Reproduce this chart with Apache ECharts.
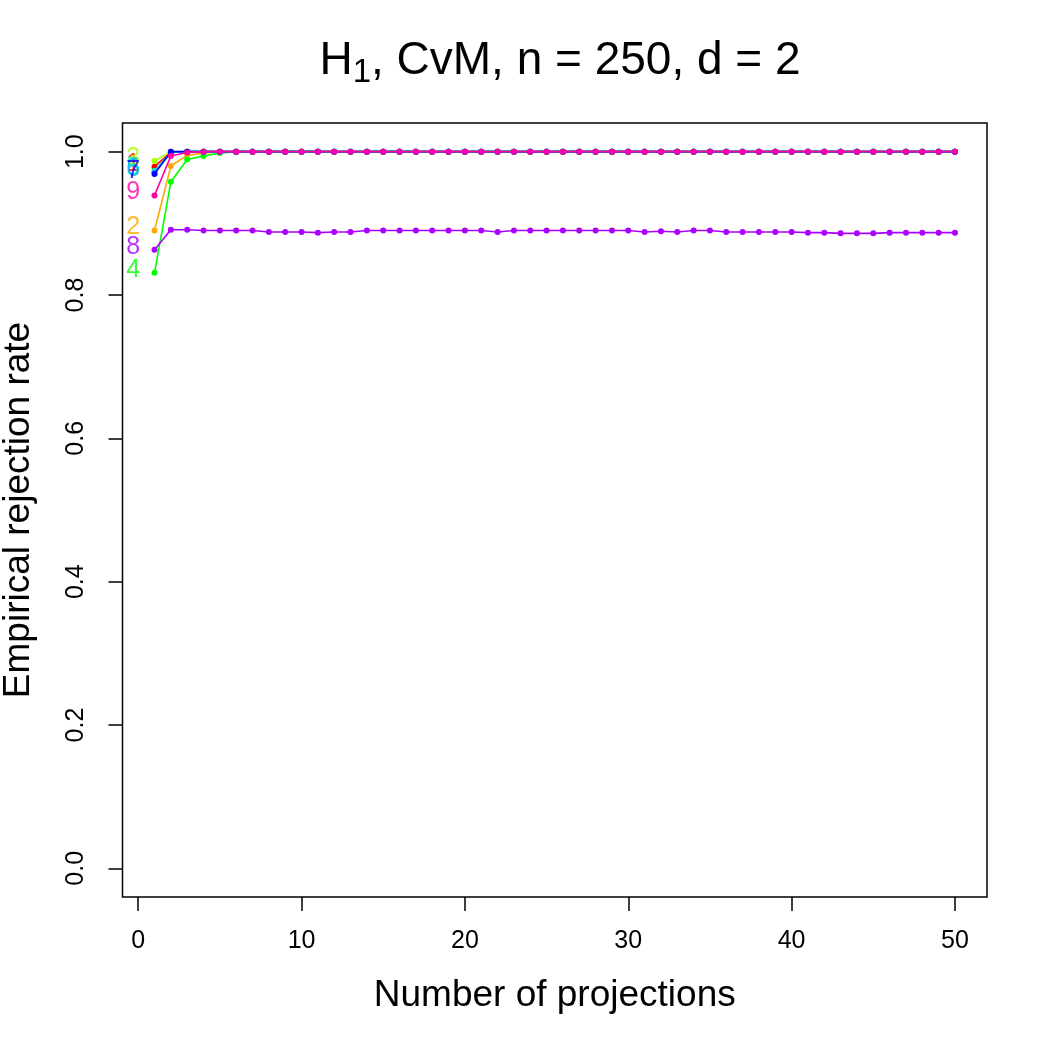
<!DOCTYPE html>
<html>
<head>
<meta charset="utf-8">
<script src="https://cdn.jsdelivr.net/npm/echarts@6/dist/echarts.min.js"></script>
<style>
html,body{margin:0;padding:0;background:#fff;}
#chart{width:1050px;height:1050px;}
</style>
</head>
<body>
<div id="chart"></div>
<script>
const titleMain = "H";
const titleSub = "1";
const titleRest = ", CvM, n = 250, d = 2";
const xAxisTitle = "Number of projections";
const yAxisTitle = "Empirical rejection rate";

const projections = [1,2,3,4,5,6,7,8,9,10,11,12,13,14,15,16,17,18,19,20,21,22,23,24,25,26,27,28,29,30,31,32,33,34,35,36,37,38,39,40,41,42,43,44,45,46,47,48,49,50];
const xTicks = [0, 10, 20, 30, 40, 50];
const yTicks = [0, 0.2, 0.4, 0.6, 0.8, 1.0];

const seriesNames = ["1","2","3","4","5","6","7","8","9"];
const seriesColors = ["#FF0000","#FFAA00","#AAFF00","#00FF00","#00FFAA","#00AAFF","#0000FF","#AA00FF","#FF00AA"];

const s1 = [0.979,0.999,1,1,1,1,1,1,1,1, 1,1,1,1,1,1,1,1,1,1, 1,1,1,1,1,1,1,1,1,1, 1,1,1,1,1,1,1,1,1,1, 1,1,1,1,1,1,1,1,1,1];
const s2 = [0.890,0.980,0.995,0.998,1,1,1,1,1,1, 1,1,1,1,1,1,1,1,1,1, 1,1,1,1,1,1,1,1,1,1, 1,1,1,1,1,1,1,1,1,1, 1,1,1,1,1,1,1,1,1,1];
const s3 = [0.987,1,1,1,1,1,1,1,1,1, 1,1,1,1,1,1,1,1,1,1, 1,1,1,1,1,1,1,1,1,1, 1,1,1,1,1,1,1,1,1,1, 1,1,1,1,1,1,1,1,1,1];
const s4 = [0.831,0.958,0.989,0.994,0.998,1,1,1,1,1, 1,1,1,1,1,1,1,1,1,1, 1,1,1,1,1,1,1,1,1,1, 1,1,1,1,1,1,1,1,1,1, 1,1,1,1,1,1,1,1,1,1];
const s5 = [0.973,0.999,1,1,1,1,1,1,1,1, 1,1,1,1,1,1,1,1,1,1, 1,1,1,1,1,1,1,1,1,1, 1,1,1,1,1,1,1,1,1,1, 1,1,1,1,1,1,1,1,1,1];
const s6 = [0.971,0.999,1,1,1,1,1,1,1,1, 1,1,1,1,1,1,1,1,1,1, 1,1,1,1,1,1,1,1,1,1, 1,1,1,1,1,1,1,1,1,1, 1,1,1,1,1,1,1,1,1,1];
const s7 = [0.969,1,1,1,1,1,1,1,1,1, 1,1,1,1,1,1,1,1,1,1, 1,1,1,1,1,1,1,1,1,1, 1,1,1,1,1,1,1,1,1,1, 1,1,1,1,1,1,1,1,1,1];
const s8 = [0.863,0.891,0.891,0.890,0.890,0.890,0.890,0.888,0.888,0.888,
            0.887,0.888,0.888,0.890,0.890,0.890,0.890,0.890,0.890,0.890,
            0.890,0.888,0.890,0.890,0.890,0.890,0.890,0.890,0.890,0.890,
            0.888,0.889,0.888,0.890,0.890,0.888,0.888,0.888,0.888,0.888,
            0.887,0.887,0.886,0.886,0.886,0.887,0.887,0.887,0.887,0.887];
const s9 = [0.939,0.994,0.999,1,1,1,1,1,1,1, 1,1,1,1,1,1,1,1,1,1, 1,1,1,1,1,1,1,1,1,1, 1,1,1,1,1,1,1,1,1,1, 1,1,1,1,1,1,1,1,1,1];

const allSeries = [s1,s2,s3,s4,s5,s6,s7,s8,s9];
const labelX = 0;
const FONT = 'Liberation Sans, Arial, sans-serif';

const series = [];
allSeries.forEach(function(vals, i){
  series.push({
    type: 'line',
    name: seriesNames[i],
    data: projections.map(function(p, k){ return [p, vals[k]]; }),
    symbol: 'circle',
    symbolSize: 6,
    showSymbol: true,
    lineStyle: {color: seriesColors[i], width: 1.6},
    itemStyle: {color: seriesColors[i], borderWidth: 0},
    emphasis: {disabled: true},
    animation: false,
    z: 2 + i
  });
});
allSeries.forEach(function(vals, i){
  series.push({
    type: 'scatter',
    name: 'lab' + seriesNames[i],
    data: [[labelX, vals[0]]],
    symbolSize: 0,
    label: {
      show: true,
      position: 'inside',
      formatter: seriesNames[i],
      color: seriesColors[i],
      fontSize: 25,
      fontFamily: FONT,
      offset: [-5, -3]
    },
    emphasis: {disabled: true},
    animation: false,
    z: 20 + i
  });
});

const chart = echarts.init(document.getElementById('chart'), null, {renderer: 'canvas'});
chart.setOption({
  backgroundColor: '#ffffff',
  animation: false,
  textStyle: {fontFamily: FONT, color: '#000'},
  title: {
    text: '{a|' + titleMain + '}{s|' + titleSub + '}{a|' + titleRest + '}',
    left: 555,
    textAlign: 'center',
    top: 28,
    textStyle: {
      fontWeight: 'normal',
      rich: {
        a: {fontSize: 46, lineHeight: 56, color: '#000', fontWeight: 'normal', fontFamily: FONT},
        s: {fontSize: 33, lineHeight: 33, verticalAlign: 'bottom', color: '#000', fontWeight: 'normal', fontFamily: FONT}
      }
    }
  },
  grid: {
    left: 122.5, right: 63, top: 123, bottom: 153,
    outerBoundsMode: 'none',
    containLabel: false,
    show: true, borderColor: '#000', borderWidth: 1.5, backgroundColor: 'transparent'
  },
  xAxis: {
    type: 'value',
    min: -0.96, max: 51.96,
    axisLine: {show: false, onZero: false},
    splitLine: {show: false},
    axisTick: {show: true, inside: false, customValues: xTicks, length: 14, lineStyle: {color: '#000', width: 1.5}},
    axisLabel: {customValues: xTicks, fontSize: 25, color: '#000', margin: 32, fontFamily: FONT},
    name: xAxisTitle,
    nameLocation: 'middle',
    nameGap: 80,
    nameTextStyle: {fontSize: 37, color: '#000', fontFamily: FONT}
  },
  yAxis: {
    type: 'value',
    min: -0.04, max: 1.04,
    axisLine: {show: false, onZero: false},
    splitLine: {show: false},
    axisTick: {show: true, inside: false, customValues: yTicks, length: 14, lineStyle: {color: '#000', width: 1.5}},
    axisLabel: {customValues: yTicks, fontSize: 25, color: '#000', margin: 34, rotate: 90,
                formatter: function(v){ return v.toFixed(1); }, fontFamily: FONT},
    name: yAxisTitle,
    nameLocation: 'middle',
    nameGap: 85,
    nameTextStyle: {fontSize: 37, color: '#000', fontFamily: FONT}
  },
  series: series
});
</script>
</body>
</html>
